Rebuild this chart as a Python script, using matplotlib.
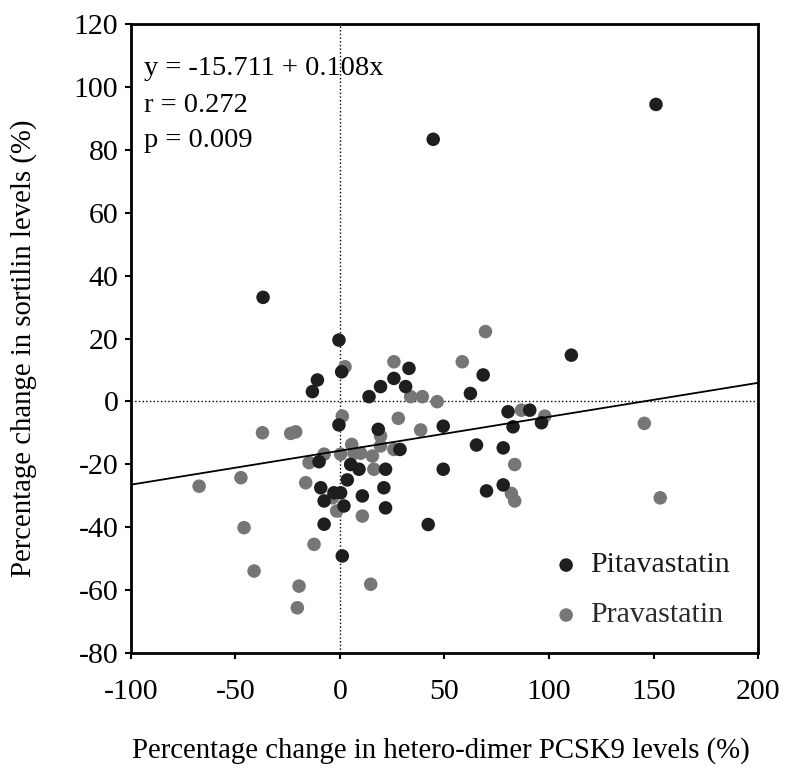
import numpy as np
import matplotlib
matplotlib.use('Agg')
import matplotlib.pyplot as plt

plt.rcParams['font.family'] = ['Liberation Serif', 'DejaVu Serif']
plt.rcParams['axes.unicode_minus'] = False

# Pitavastatin group (x: hetero-dimer PCSK9 change %, y: sortilin change %)
pita_x = [151.2, 44.6, -36.8, -0.5, 0.8, -10.8, -13.2, -0.5, -10.0, 13.9, 19.4, 25.8, 33.0,
          31.4, 62.4, 68.5, 80.4, 90.8, 82.8, 96.4, 18.3, 49.4, 65.3, 78.1, 78.1, 70.1,
          49.4, 42.2, 28.7, 5.1, 9.1, 21.8, 3.5, -9.2, 21.0, 0.3, -2.9, 10.7, -7.6, 1.9,
          21.8, -7.6, 1.1, 110.7]
pita_y = [94.5, 83.4, 33.1, 19.5, 9.4, 6.8, 3.1, -7.5, -19.2, 1.5, 4.7, 7.3, 10.5,
          4.7, 2.5, 8.4, -3.3, -2.8, -8.1, -6.8, -8.9, -7.9, -13.9, -14.8, -26.6, -28.5,
          -21.6, -39.2, -15.3, -20.1, -21.6, -21.6, -25.0, -27.5, -27.5, -29.1, -29.1, -30.1, -31.7, -33.3,
          -33.9, -39.1, -49.2, 14.7]

# Pravastatin group
prava_x = [2.4, 1.1, -37.1, -23.6, -21.2, -7.6, -14.8, 0.3, -47.4, 25.8, 33.8, 39.4,
           46.5, 58.5, 69.6, 86.8, 98.0, 27.9, 19.4, 38.6, 83.6, 82.0, 83.6, 5.6, 19.4,
           25.8, 15.5, 6.7, 9.9, 16.2, -3.6, -1.6, 10.7, -12.4, -67.4, -16.4, -45.9, -41.1,
           -19.6, -20.4, 14.7, 145.6, 153.2]
prava_y = [11.0, -4.7, -10.0, -10.2, -9.7, -16.8, -19.5, -16.8, -24.3, 12.6, 1.5, 1.5,
           -0.1, 12.6, 22.2, -2.8, -4.7, -5.4, -11.0, -9.1, -20.1, -29.3, -31.7, -13.7, -14.2,
           -15.3, -17.4, -16.5, -16.5, -21.6, -30.7, -34.9, -36.5, -45.5, -27.0, -25.9, -40.2, -54.0,
           -58.8, -65.7, -58.2, -7.0, -30.7]

intercept, slope = -15.711, 0.108
stats_lines = ['y = -15.711 + 0.108x', 'r = 0.272', 'p = 0.009']

dark = '#1e1e1e'
grey = '#767676'

fig = plt.figure(figsize=(7.9, 7.69), dpi=100)
ax = fig.add_axes([0.1658, 0.1512, 0.7937, 0.8172])

ax.axhline(0, color='black', linestyle=':', linewidth=1.0, zorder=1)
ax.axvline(0, color='black', linestyle=':', linewidth=1.0, zorder=1)

ax.scatter(prava_x, prava_y, s=95, color=grey, edgecolors='none', zorder=2)
ax.scatter(pita_x, pita_y, s=95, color=dark, edgecolors='none', zorder=3)

xl = np.array([-100, 200])
ax.plot(xl, intercept + slope * xl, color='black', linewidth=1.3, zorder=4)

ax.set_xlim(-100, 200)
ax.set_ylim(-80, 120)
ax.set_xticks(range(-100, 201, 50))
ax.set_yticks(range(-80, 121, 20))
ax.tick_params(direction='out', length=4, width=1.5, labelsize=21.5)
ax.tick_params(axis='x', pad=15)
ax.tick_params(axis='y', pad=5)
for sp in ax.spines.values():
    sp.set_linewidth(2)

ax.set_xlabel('Percentage change in hetero-dimer PCSK9 levels (%)', fontsize=20.7)
ax.set_ylabel('Percentage change in sortilin levels (%)', fontsize=20.7)
ax.xaxis.set_label_coords(0.495, -0.134)
ax.yaxis.set_label_coords(-0.150, 0.485)

# regression stats
for txt, yb in zip(stats_lines, [103.8, 92.2, 81.0]):
    ax.text(-93.6, yb, txt, fontsize=20.5, va='baseline', ha='left')

# legend drawn by hand
ax.scatter([108.2], [-52.1], s=95, color=dark, edgecolors='none')
ax.scatter([108.2], [-68.0], s=95, color=grey, edgecolors='none')
ax.text(119.8, -52.1, 'Pitavastatin', fontsize=21.5, va='center', ha='left', color='#1a1a1a')
ax.text(119.8, -68.0, 'Pravastatin', fontsize=21.5, va='center', ha='left', color='#2a2a2a')

fig.savefig('out.png', dpi=100)
